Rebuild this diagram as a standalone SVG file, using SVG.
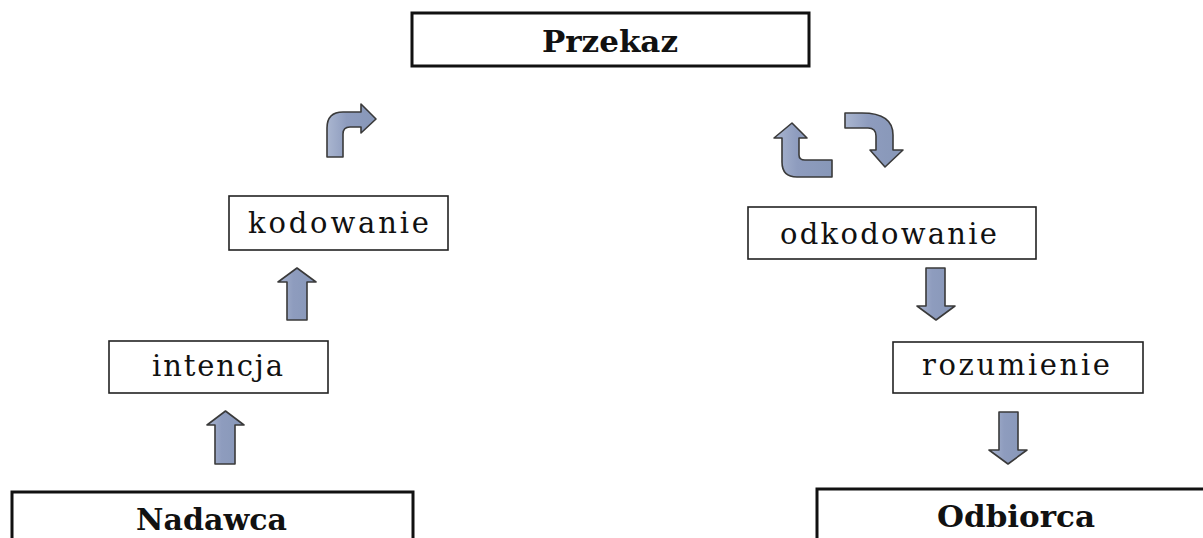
<svg xmlns="http://www.w3.org/2000/svg" width="1203" height="538" viewBox="0 0 1203 538">
<defs>
<linearGradient id="ag" x1="0" y1="0" x2="1" y2="0">
<stop offset="0" stop-color="#aab6d0"/>
<stop offset="0.4" stop-color="#8e9cbe"/>
<stop offset="1" stop-color="#8797b8"/>
</linearGradient>
<style>
.big{fill:#fff;stroke:#111;stroke-width:3}
.small{fill:#fff;stroke:#222;stroke-width:1.6}
.tb{font-family:"DejaVu Serif","Liberation Serif",serif;font-weight:bold;font-size:30px;fill:#111;text-anchor:middle}
.tr{font-family:"DejaVu Serif","Liberation Serif",serif;font-size:29px;fill:#111;text-anchor:middle}
.arr{fill:url(#ag);stroke:#3a3a3a;stroke-width:1.6;stroke-linejoin:round}
</style>
</defs>
<rect width="1203" height="538" fill="#fff"/>
<g id="przekaz"><rect class="big" x="412" y="13" width="397" height="53"/><text class="tb" x="610" y="52" textLength="136" lengthAdjust="spacingAndGlyphs">Przekaz</text></g>
<g id="kodowanie"><rect class="small" x="229" y="196" width="219" height="54"/><text class="tr" x="338.5" y="233" textLength="181" lengthAdjust="spacing">kodowanie</text></g>
<g id="intencja"><rect class="small" x="109" y="341" width="219" height="52"/><text class="tr" x="217.5" y="376" textLength="131" lengthAdjust="spacing">intencja</text></g>
<g id="nadawca"><rect class="big" x="12" y="492" width="401" height="60"/><text class="tb" x="211.5" y="530" textLength="151" lengthAdjust="spacingAndGlyphs">Nadawca</text></g>
<g id="odkodowanie"><rect class="small" x="748" y="207" width="288" height="52"/><text class="tr" x="888.5" y="244" textLength="217" lengthAdjust="spacing">odkodowanie</text></g>
<g id="rozumienie"><rect class="small" x="893" y="342" width="250" height="51"/><text class="tr" x="1016" y="375" textLength="188" lengthAdjust="spacing">rozumienie</text></g>
<g id="odbiorca"><rect class="big" x="817" y="489" width="400" height="60"/><text class="tb" x="1016" y="527" textLength="158" lengthAdjust="spacingAndGlyphs">Odbiorca</text></g>
<g id="connectors">
<path class="arr" d="M225.5,411 L244,425 L235,425 L235,464 L215,464 L215,425 L207,425 Z"/>
<path class="arr" d="M297,268 L316,282 L307,282 L307,320 L287,320 L287,282 L278,282 Z"/>
<path class="arr" d="M327,157 L327,128 Q327,112 343,112 L361,112 L361,104 L376,119 L361,133 L361,127 L350,127 Q343,127 343,134 L343,157 Z"/>
<path class="arr" d="M792,123 L807,138 L799,138 L799,155 Q799,160 805,160 L832,160 L832,177 L797,177 Q782,177 782,162 L782,138 L774,138 Z"/>
<path class="arr" d="M845,113 L862,113 Q893,113 893,135 L893,150 L903,150 L885,167 L870,150 L876,150 L876,136 Q876,128 868,128 L845,128 Z"/>
<path class="arr" d="M926,268 L945,268 L945,306 L955,306 L936,320 L917,306 L926,306 Z"/>
<path class="arr" d="M999,412 L1018,412 L1018,450 L1027,450 L1008,464 L989,450 L999,450 Z"/>
</g>
</svg>
